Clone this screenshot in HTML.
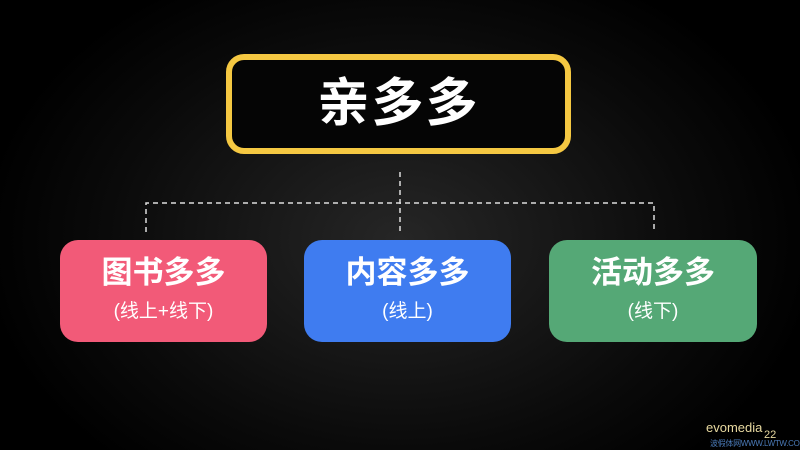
<!DOCTYPE html>
<html><head><meta charset="utf-8"><style>
body{margin:0;width:800px;height:450px;overflow:hidden;background:radial-gradient(ellipse 420px 300px at 400px 240px,#262626 0%,#0a0a0a 70%,#000 100%);font-family:"Liberation Sans","Noto Sans CJK SC",sans-serif;position:relative}
.top{position:absolute;left:226px;top:54px;width:333px;height:88px;border:6px solid #f5c842;border-radius:18px;background:#050505;color:#fff;font-size:52px;font-weight:bold;text-align:center;line-height:88px;letter-spacing:2px}
.b{position:absolute;top:240px;height:102px;border-radius:18px;color:#fff;text-align:center}
.b .t{font-size:31px;font-weight:bold;margin-top:13px;line-height:40px}
.b .s{font-size:19px;margin-top:6px;line-height:26px}
.w{position:absolute;left:706px;top:420px;color:#e8d9a0;font-size:13px;white-space:nowrap}
.n{position:absolute;left:764px;top:429px;color:#e8d9a0;font-size:11px;white-space:nowrap}
.u{position:absolute;left:710px;top:438px;color:#4a7ab8;font-size:8px;white-space:nowrap;letter-spacing:-0.3px}
</style></head><body>
<div class="top">亲多多</div>
<svg width="800" height="450" style="position:absolute;left:0;top:0">
<g stroke="#ddd" stroke-width="1.5" stroke-dasharray="5,4" fill="none">
<line x1="400" y1="172" x2="400" y2="232"/>
<path d="M146 232 V203 H654 V232"/>
</g></svg>
<div class="b" style="left:60px;width:207px;background:#f25a78"><div class="t">图书多多</div><div class="s">(线上+线下)</div></div>
<div class="b" style="left:304px;width:207px;background:#3f7cf0"><div class="t">内容多多</div><div class="s">(线上)</div></div>
<div class="b" style="left:549px;width:208px;background:#55a876"><div class="t">活动多多</div><div class="s">(线下)</div></div>
<div class="w">evomedia</div><div class="n">22</div>
<div class="u">波假体网WWW.LWTW.COM</div>
</body></html>
